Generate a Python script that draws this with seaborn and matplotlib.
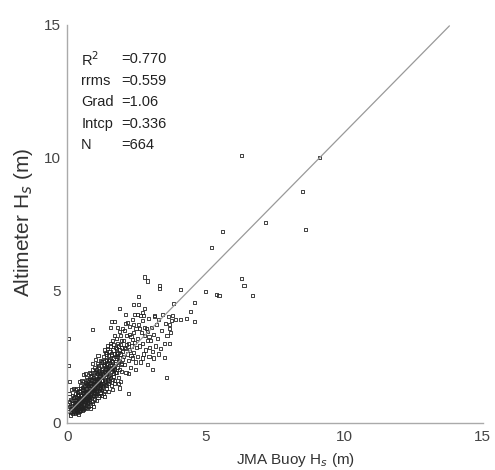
import numpy as np
import pandas as pd
import matplotlib
matplotlib.use('Agg')
import matplotlib.pyplot as plt
import seaborn as sns

sns.set_style('white')
plt.rcParams['font.family'] = ['Liberation Sans', 'DejaVu Sans']

# buoy Hs vs altimeter Hs (m), grouped by buoy Hs band
near_axis = [(0.05,0.45),(0.08,0.62),(0.1,0.38),(0.12,0.9),(0.06,1.1),(0.15,0.5),(0.18,0.72),(0.2,0.35),
             (0.22,0.95),(0.14,1.25),(0.09,0.8),(0.24,0.6),(0.19,1.05),(0.11,0.55),(0.23,0.42),(0.16,0.85),
             (0.21,1.3),(0.04,2.15),(0.03,3.2),(0.07,1.55),(0.13,0.3),(0.25,0.78),(0.17,0.65),(0.02,0.7)]
core_1 = [(0.26,0.41),(0.27,0.66),(0.28,0.88),(0.29,0.52),(0.3,1.12),(0.31,0.37),(0.32,0.74),(0.33,0.95),(0.34,0.58),(0.35,1.3),
          (0.36,0.46),(0.37,0.81),(0.38,0.63),(0.39,1.02),(0.4,0.34),(0.41,0.7),(0.42,1.18),(0.43,0.55),(0.44,0.9),(0.45,0.44),
          (0.46,1.4),(0.47,0.76),(0.48,0.6),(0.49,1.05),(0.5,0.85),(0.27,0.98),(0.29,0.78),(0.31,0.57),(0.33,0.45),(0.35,0.69),
          (0.37,1.08),(0.39,0.5),(0.41,0.92),(0.43,0.72),(0.45,1.22),(0.47,0.48),(0.49,0.67),(0.3,0.64),(0.34,0.83),(0.38,0.4),
          (0.42,0.62),(0.46,0.97),(0.5,0.53),(0.28,1.25),(0.36,1.15),(0.44,1.55),(0.48,0.9),(0.32,0.5),(0.4,0.8),(0.47,1.3)]
core_2 = [(0.51,0.62),(0.52,1.02),(0.53,0.81),(0.54,1.35),(0.55,0.48),(0.56,0.93),(0.57,1.15),(0.58,0.7),(0.59,1.55),(0.6,0.88),
          (0.61,1.22),(0.62,0.58),(0.63,1.0),(0.64,1.42),(0.65,0.77),(0.66,1.1),(0.67,0.95),(0.68,1.7),(0.69,0.65),(0.7,1.28),
          (0.71,0.85),(0.72,1.05),(0.73,1.48),(0.74,0.72),(0.75,1.2),(0.52,0.75),(0.54,0.55),(0.56,1.25),(0.58,1.05),(0.6,0.68),
          (0.62,1.38),(0.64,0.9),(0.66,0.6),(0.68,1.2),(0.7,0.98),(0.72,0.8),(0.74,1.62),(0.53,1.6),(0.57,0.98),(0.61,0.8),
          (0.65,1.3),(0.69,1.45),(0.73,0.92),(0.55,1.15),(0.59,0.52),(0.63,0.72),(0.67,1.52),(0.71,1.12),(0.75,0.88),(0.58,1.82),
          (0.66,1.85),(0.51,0.9),(0.6,1.12),(0.7,0.55),(0.64,1.15)]
core_3 = [(0.76,1.0),(0.77,1.42),(0.78,0.78),(0.79,1.65),(0.8,1.18),(0.81,0.9),(0.82,1.5),(0.83,1.28),(0.84,0.68),(0.85,1.85),
          (0.86,1.1),(0.87,1.4),(0.88,0.95),(0.89,1.6),(0.9,1.25),(0.91,2.0),(0.92,0.82),(0.93,1.45),(0.94,1.15),(0.95,1.72),
          (0.96,1.02),(0.97,1.35),(0.98,1.9),(0.99,0.88),(1.0,1.55),(0.77,1.2),(0.79,0.95),(0.81,1.35),(0.83,1.75),(0.85,1.0),
          (0.87,1.65),(0.89,1.2),(0.91,1.5),(0.93,1.05),(0.95,1.3),(0.97,2.1),(0.99,1.45),(0.78,1.55),(0.82,1.05),(0.86,1.3),
          (0.9,0.72),(0.94,1.62),(0.98,1.22),(0.76,0.62),(0.8,1.9),(0.84,1.4),(0.88,1.78),(0.92,1.3),(0.96,1.5),(1.0,1.1),
          (0.85,0.55),(0.93,0.62),(0.9,2.25)]
core_4 = [(1.01,1.3),(1.02,1.75),(1.03,1.05),(1.04,2.0),(1.05,1.45),(1.06,1.6),(1.07,1.2),(1.08,2.25),(1.09,1.52),(1.1,1.85),
          (1.11,0.98),(1.12,1.4),(1.13,1.68),(1.14,2.1),(1.15,1.3),(1.16,1.9),(1.17,1.55),(1.18,1.15),(1.19,2.35),(1.2,1.72),
          (1.21,1.45),(1.22,2.0),(1.23,1.25),(1.24,1.62),(1.25,1.95),(1.02,1.5),(1.04,1.25),(1.06,1.9),(1.08,1.62),(1.1,1.35),
          (1.12,2.15),(1.14,1.5),(1.16,1.22),(1.18,1.8),(1.2,1.4),(1.22,1.6),(1.24,2.3),(1.05,0.85),(1.09,1.1),(1.13,1.95),
          (1.17,1.05),(1.21,1.85),(1.25,1.5),(1.03,2.4),(1.11,2.55),(1.19,1.3),(1.07,1.68),(1.15,1.75),(1.23,1.05),(1.01,1.95)]
core_5 = [(1.26,1.6),(1.27,2.05),(1.28,1.35),(1.29,2.3),(1.3,1.8),(1.31,1.5),(1.32,2.5),(1.33,1.95),(1.34,1.2),(1.35,2.15),
          (1.36,1.7),(1.37,2.65),(1.38,1.45),(1.39,2.0),(1.4,1.85),(1.41,2.4),(1.42,1.3),(1.43,2.2),(1.44,1.62),(1.45,2.8),
          (1.46,1.95),(1.47,1.5),(1.48,2.35),(1.49,1.75),(1.5,2.1),(1.28,1.85),(1.31,2.2),(1.34,1.65),(1.37,1.9),(1.4,2.6),
          (1.43,1.4),(1.46,2.25),(1.49,1.2),(1.3,1.1),(1.36,2.35),(1.42,2.05),(1.48,1.6),(1.33,2.75),(1.39,1.55),(1.45,2.0),
          (1.27,1.4),(1.5,2.55),(1.35,1.0),(1.44,2.9)]
core_6 = [(1.51,1.8),(1.52,2.4),(1.53,1.55),(1.54,2.7),(1.55,2.05),(1.56,1.7),(1.57,2.9),(1.58,2.2),(1.59,1.4),(1.6,2.55),
          (1.61,1.95),(1.62,3.1),(1.63,2.3),(1.64,1.65),(1.65,2.75),(1.66,2.1),(1.67,1.85),(1.68,2.45),(1.69,3.3),(1.7,2.0),
          (1.71,2.6),(1.72,1.5),(1.73,2.85),(1.74,2.25),(1.75,1.9),(1.54,2.15),(1.58,2.6),(1.62,2.0),(1.66,2.95),(1.7,1.6),
          (1.74,2.5),(1.56,3.0),(1.64,1.25),(1.72,2.05),(1.6,2.35),(1.68,1.75)]
core_7 = [(1.76,2.3),(1.77,2.8),(1.78,1.9),(1.79,3.2),(1.8,2.5),(1.81,2.1),(1.82,3.0),(1.83,2.65),(1.84,1.7),(1.85,2.9),
          (1.86,2.35),(1.87,3.45),(1.88,2.0),(1.89,2.75),(1.9,2.45),(1.91,3.3),(1.92,1.55),(1.93,2.6),(1.94,2.2),(1.95,3.1),
          (1.96,2.85),(1.97,1.95),(1.98,3.55),(1.99,2.4),(2.0,2.7),(1.8,3.6),(1.86,1.5),(1.92,2.95),(1.78,2.6),(1.96,2.25)]
tail_1 = [(2.02,2.5),(2.04,3.1),(2.06,2.2),(2.08,3.5),(2.1,2.8),(2.12,1.9),(2.14,3.3),(2.16,2.6),(2.18,3.8),(2.2,2.35),
          (2.22,3.0),(2.24,2.75),(2.26,3.65),(2.28,2.1),(2.3,3.25),(2.32,2.9),(2.34,3.9),(2.36,2.45),(2.38,3.4),(2.4,2.65),
          (2.42,3.05),(2.44,4.1),(2.46,2.3),(2.48,3.55),(2.5,2.85),(2.1,3.75),(2.2,1.85),(2.3,2.55),(2.4,3.7),(2.15,2.95),
          (2.35,3.15),(2.45,2.0),(2.05,2.85),(2.25,3.35)]
tail_2 = [(2.52,3.2),(2.55,2.5),(2.58,3.7),(2.6,2.9),(2.63,4.05),(2.65,2.3),(2.68,3.4),(2.7,3.0),(2.73,3.85),(2.75,2.6),
          (2.78,3.3),(2.8,4.3),(2.83,2.75),(2.85,3.55),(2.88,3.1),(2.9,2.2),(2.93,3.95),(2.95,3.25),(2.98,2.85),(2.6,3.55),
          (2.7,2.45),(2.8,3.6),(2.9,3.45),(2.55,4.1),(2.72,4.15),(2.95,2.5)]
tail_3 = [(3.02,3.1),(3.05,3.6),(3.08,2.7),(3.12,3.35),(3.15,4.0),(3.18,2.9),(3.22,3.7),(3.25,3.2),(3.3,3.9),(3.35,2.8),
          (3.4,3.5),(3.45,4.1),(3.5,3.0),(3.55,3.75),(3.6,3.3),(3.65,4.0),(3.7,3.55),(3.75,3.85),(3.8,4.05),(3.9,3.9),
          (3.1,2.45),(3.3,2.6),(3.7,3.0),(3.72,3.4),(3.68,3.7)]
outliers = [(6.29,10.08),(9.12,10.01),(8.49,8.72),(8.6,7.29),(7.17,7.56),(5.59,7.22),(5.2,6.62),(6.29,5.44),(6.38,5.19),
            (6.68,4.79),(5.39,4.84),(5.48,4.82),(4.99,4.94),(4.58,4.54),(4.6,3.83),(4.09,5.03),(3.82,4.5),(2.8,5.5),
            (2.88,5.35),(3.34,5.19),(3.34,5.07),(2.58,4.75),(1.9,4.33),(2.38,4.46),(2.56,4.46),(0.9,3.52),(3.07,2.02),
            (3.58,1.7),(3.52,2.46),(2.2,1.12),(1.9,1.32),(4.3,3.95),(4.45,4.2),(4.1,3.9),(2.75,4.06),(3.15,4.06),
            (1.6,3.83),(1.72,3.83),(1.55,3.6),(2.1,4.1)]

# regression stats printed on the chart
stat_names = ['R$^2$', 'rrms', 'Grad', 'Intcp', 'N']
stat_values = ['=0.770', '=0.559', '=1.06', '=0.336', '=664']
grad, intcp = 1.06, 0.336
fit_x = [0.0, 13.8]

ticks = [0, 5, 10, 15]

groups = [near_axis, core_1, core_2, core_3, core_4, core_5, core_6, core_7, tail_1, tail_2, tail_3, outliers]
df = pd.DataFrame([p for g in groups for p in g], columns=['buoy', 'alt'])

fig = plt.figure(figsize=(4.95, 4.7), dpi=100)
ax = fig.add_axes([0.136, 0.1, 0.839, 0.847])

sns.scatterplot(data=df, x='buoy', y='alt', ax=ax, marker='s', s=5,
                facecolor='none', edgecolor='#222222', linewidth=0.6, legend=False)
ax.plot(fit_x, [grad * x + intcp for x in fit_x], color='#999999', lw=0.9, zorder=1)

ax.set_xlim(0, 15)
ax.set_ylim(0, 15)
ax.set_xticks(ticks)
ax.set_yticks(ticks)
ax.tick_params(direction='in', length=3, color='#9a9a9a', labelsize=11, labelcolor='#444444', pad=5)
for s in ['top', 'right']:
    ax.spines[s].set_visible(False)
for s in ['left', 'bottom']:
    ax.spines[s].set_color('#aaaaaa')
    ax.spines[s].set_linewidth(1.0)

ax.set_xlabel('JMA Buoy H$_s$ (m)', fontsize=11, color='#333333')
ax.xaxis.set_label_coords(0.55, -0.07)
ax.set_ylabel('Altimeter H$_s$ (m)', fontsize=15, color='#333333')
ax.yaxis.set_label_coords(-0.078, 0.505)

for i, (nm, val) in enumerate(zip(stat_names, stat_values)):
    yy = 13.7 - i * 0.81
    ax.text(0.5, yy, nm, fontsize=10.5, color='#222222', va='center', ha='left')
    ax.text(1.95, yy, val, fontsize=10.5, color='#222222', va='center', ha='left')

fig.savefig('out.png', dpi=100)
